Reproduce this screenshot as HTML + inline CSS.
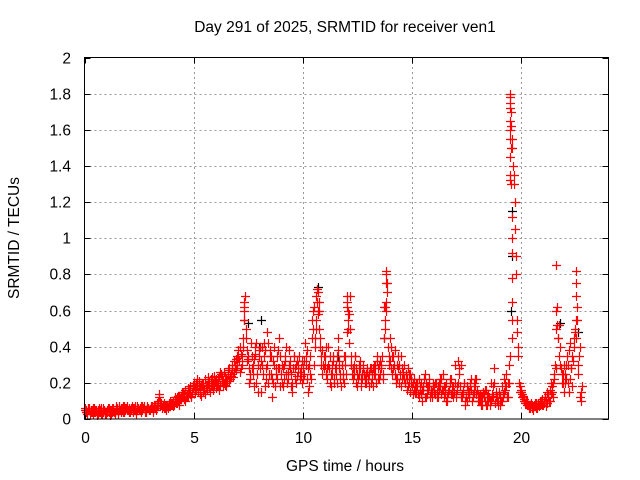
<!DOCTYPE html>
<html><head><meta charset="utf-8"><style>
body{margin:0;background:#fff;}
svg{display:block;font-family:"Liberation Sans",sans-serif;font-size:15.5px;}
</style></head><body>
<svg id="chart" width="640" height="480" viewBox="0 0 640 480">
<rect width="640" height="480" fill="#fff"/>
<text x="345" y="32" text-anchor="middle">Day 291 of 2025, SRMTID for receiver ven1</text>
<text x="345" y="471" text-anchor="middle">GPS time / hours</text>
<text x="19" y="238" text-anchor="middle" transform="rotate(-90 19 238)">SRMTID / TECUs</text>
<g id="grid"></g>
<g id="ticks"></g>
<g id="marks"></g>
<rect x="84.5" y="57.5" width="524" height="361.5" fill="none" stroke="#000" stroke-width="1"/>
</svg>
<script>
const xTicks=[0,5,10,15,20];
const yTicks=[0,0.2,0.4,0.6,0.8,1,1.2,1.4,1.6,1.8,2];
const yTickLabels=["0","0.2","0.4","0.6","0.8","1","1.2","1.4","1.6","1.8","2"];
const seriesA=[.05,.04,.06,.05,.03,.04,.05,.04,.03,.05,
.03,.04,.05,.06,.04,.05,.07,.05,.04,.06,
.05,.04,.06,.05,.07,.05,.04,.06,.05,.06,
.05,.07,.06,.09,.12,.08,.07,.06,.08,.07,
.09,.08,.11,.10,.13,.12,.10,.14,.16,.12,
.18,.20,.15,.17,.19,.14,.16,.21,.18,.20,
.17,.22,.19,.24,.20,.18,.21,.25,.23,.28,
.30,.26,.35,.62,.45,.33,.22,.30,.40,.25,
.35,.15,.42,.28,.20,.38,.12,.30,.22,.45,
.25,.18,.32,.22,.28,.15,.35,.20,.30,.24,
.28,.42,.22,.18,.55,.30,.68,.58,.40,.25,
.35,.22,.28,.18,.32,.25,.38,.22,.30,.20,
.65,.42,.30,.22,.35,.18,.28,.22,.25,.20,
.22,.28,.18,.25,.35,.22,.30,.62,.82,.40,
.32,.25,.38,.22,.30,.18,.26,.20,.28,.15,
.18,.22,.15,.12,.20,.16,.25,.14,.18,.12,
.15,.20,.12,.18,.25,.14,.10,.16,.22,.12,
.14,.32,.18,.12,.20,.10,.15,.22,.12,.18,
.10,.14,.08,.12,.16,.10,.20,.13,.09,.12,
.15,.10,.22,.18,.12,1.78,1.50,1.20,.55,.20,
.15,.12,.10,.08,.07,.06,.08,.09,.07,.10,
.08,.12,.15,.10,.18,.22,.85,.45,.30,.25,
.20,.35,.15,.28,.40,.82,.25,.12];
const seriesB=[.04,.06,.03,.05,.04,.02,.06,.03,.04,.03,
.05,.02,.06,.04,.05,.03,.06,.04,.05,.07,
.04,.06,.05,.03,.06,.05,.07,.04,.06,.05,
.06,.04,.08,.10,.07,.06,.09,.05,.07,.09,
.07,.10,.12,.08,.15,.11,.13,.17,.14,.19,
.15,.22,.18,.13,.20,.17,.23,.15,.19,.24,
.20,.16,.25,.21,.19,.27,.22,.30,.26,.33,
.38,.28,.45,.68,.32,.20,.35,.18,.42,.15,
.40,.30,.18,.48,.25,.35,.20,.28,.38,.18,
.20,.30,.25,.38,.18,.28,.22,.32,.26,.20,
.32,.35,.15,.25,.60,.45,.72,.50,.30,.35,
.25,.40,.20,.30,.22,.35,.28,.18,.25,.30,
.55,.68,.25,.30,.20,.25,.18,.30,.22,.26,
.18,.25,.30,.20,.28,.32,.25,.55,.75,.30,
.40,.28,.20,.35,.25,.22,.30,.16,.20,.22,
.14,.18,.20,.16,.10,.22,.12,.18,.15,.20,
.20,.12,.16,.22,.18,.10,.15,.20,.14,.30,
.18,.25,.12,.16,.08,.14,.20,.10,.15,.22,
.12,.08,.15,.10,.12,.08,.14,.28,.12,.10,
.08,.14,.20,.12,.30,1.62,1.35,.90,.40,.15,
.12,.10,.08,.07,.09,.05,.07,.08,.10,.08,
.10,.07,.12,.20,.12,.30,.62,.52,.20,.15,
.30,.20,.42,.18,.50,.55,.35,.10];
const seriesC=[.06,.03,.05,.04,.06,.05,.03,.05,.06,.04,
.04,.06,.03,.05,.07,.04,.05,.06,.07,.05,
.06,.05,.04,.07,.05,.06,.05,.07,.04,.06,
.07,.05,.06,.08,.14,.09,.06,.08,.06,.10,
.08,.12,.09,.13,.11,.15,.16,.12,.18,.15,
.20,.16,.21,.18,.15,.22,.19,.17,.23,.18,
.22,.19,.26,.18,.24,.21,.28,.24,.32,.27,
.34,.40,.30,.55,.38,.28,.42,.25,.36,.30,
.28,.40,.35,.22,.42,.25,.32,.18,.35,.28,
.30,.22,.40,.26,.32,.20,.28,.24,.35,.28,
.22,.30,.28,.35,.45,.62,.50,.65,.35,.30,
.30,.28,.35,.25,.20,.30,.45,.25,.22,.35,
.48,.58,.35,.25,.28,.22,.32,.25,.20,.28,
.25,.20,.28,.30,.22,.25,.35,.45,.65,.35,
.28,.35,.25,.30,.20,.28,.22,.25,.18,.25,
.20,.15,.18,.22,.14,.18,.20,.16,.12,.15,
.18,.15,.20,.14,.16,.18,.12,.22,.18,.15,
.12,.20,.30,.15,.10,.18,.12,.16,.20,.14,
.14,.10,.12,.16,.08,.12,.10,.18,.15,.08,
.12,.18,.15,.25,.20,1.70,1.40,1.05,.48,.18,
.14,.11,.09,.08,.06,.07,.09,.06,.08,.09,
.09,.10,.14,.16,.15,.25,.52,.35,.28,.20,
.25,.30,.22,.35,.45,.68,.30,.15];
const seriesD=[.05,.05,.04,.06,.05,.03,.04,.06,.05,.04,
.06,.05,.04,.03,.06,.05,.04,.07,.06,.05,
.05,.07,.06,.04,.05,.07,.06,.05,.07,.05,
.06,.08,.05,.07,.10,.07,.08,.07,.09,.08,
.10,.09,.13,.11,.12,.14,.13,.15,.13,.17,
.17,.19,.14,.20,.16,.18,.20,.22,.16,.21,
.19,.23,.21,.26,.22,.25,.24,.27,.30,.35,
.32,.36,.40,.50,.35,.25,.28,.33,.20,.38,
.32,.25,.38,.30,.35,.22,.40,.25,.28,.35,
.28,.35,.20,.30,.25,.35,.30,.26,.22,.32,
.25,.38,.30,.22,.50,.40,.60,.45,.38,.28,
.40,.30,.25,.35,.28,.20,.32,.30,.35,.25,
.60,.50,.28,.35,.25,.30,.22,.28,.25,.22,
.28,.22,.25,.32,.30,.28,.22,.50,.70,.45,
.35,.30,.22,.28,.35,.25,.20,.22,.25,.20,
.16,.20,.14,.18,.16,.12,.18,.22,.16,.18,
.14,.18,.22,.16,.12,.20,.16,.14,.18,.20,
.16,.28,.14,.20,.12,.16,.18,.14,.22,.16,
.10,.12,.14,.08,.14,.10,.12,.20,.10,.14,
.10,.12,.16,.20,.35,1.55,1.30,.80,.35,.16,
.13,.09,.10,.06,.08,.07,.06,.09,.08,.11,
.12,.09,.10,.14,.20,.28,.45,.40,.25,.30,
.22,.38,.28,.32,.48,.62,.40,.18];
const peakTimes=[19.5,19.5,19.5,19.5,19.5,19.5,19.5,19.5,19.5,19.55,19.55,19.6,19.6,19.6,19.6,19.6,19.6,19.6,21.6,21.6,22.5,22.5,22.5,13.8,13.8,13.75,13.8,7.3,7.3,7.3,10.7,10.65,10.75,10.6,12.0,12.0,12.05];
const peakValues=[1.8,1.75,1.72,1.65,1.6,1.55,1.45,1.35,1.32,1.3,1.5,1.12,1.0,.92,.78,.65,.55,.45,.6,.5,.75,.55,.45,.8,.75,.62,.6,.65,.6,.55,.7,.65,.6,.55,.68,.62,.5];
const blackTimes=[7.5,8.1,10.7,11.6,13.7,19.6,19.6,21.8,22.6,8.0,12.2,19.55];
const blackValues=[.53,.55,.73,.35,.45,1.15,.9,.53,.48,.4,.3,.6];

const X0=84.5,X1=608.5,Y0=419,Y1=57.5,XMAX=24,YMAX=2;
const sx=t=>X0+(X1-X0)*t/XMAX;
const sy=v=>Y0-(Y0-Y1)*v/YMAX;
const NS="http://www.w3.org/2000/svg";
function mk(tag,attrs,parent){const e=document.createElementNS(NS,tag);for(const k in attrs)e.setAttribute(k,attrs[k]);parent.appendChild(e);return e;}
const grid=document.getElementById('grid'),ticks=document.getElementById('ticks'),marks=document.getElementById('marks');
yTicks.forEach((v,i)=>{
  const y=Math.round(sy(v))+0.5;
  if(i>0&&i<yTicks.length-1){
    const g=mk('line',{x1:X0,x2:X1,y1:y,y2:y,stroke:'#999','stroke-dasharray':'2,3'},grid);
    
    
  }
  mk('line',{x1:X0,x2:X0+6,y1:y,y2:y,stroke:'#000'},ticks);
  mk('line',{x1:X1-6,x2:X1,y1:y,y2:y,stroke:'#000'},ticks);
  const t=mk('text',{x:71,y:y+5,'text-anchor':'end'},ticks);
  t.textContent=yTickLabels[i];
  
  
});
xTicks.forEach(v=>{
  const x=Math.round(sx(v))+0.5;
  if(v>0){
    const g=mk('line',{x1:x,x2:x,y1:Y0,y2:Y1,stroke:'#999','stroke-dasharray':'2,3'},grid);
    
    
  }
  mk('line',{x1:x,x2:x,y1:Y0,y2:Y0-6,stroke:'#000'},ticks);
  mk('line',{x1:x,x2:x,y1:Y1,y2:Y1+6,stroke:'#000'},ticks);
  const t=mk('text',{x:x,y:443,'text-anchor':'middle'},ticks);
  t.textContent=String(v);
  
  
});
function plus(t,v,color,name){
  const x=Math.round(sx(t))+0.5,y=Math.round(sy(v))+0.5;
  const p=mk('path',{d:`M${x-4.5} ${y}H${x+4.5}M${x} ${y-4.5}V${y+4.5}`,stroke:color,'stroke-width':1.2,fill:'none'},marks);
  
  
}
blackTimes.forEach((t,i)=>plus(t,blackValues[i],'#000','black-point'));
seriesA.forEach((v,i)=>plus(i*0.1,v,'#f00','red-point'));
seriesB.forEach((v,i)=>plus(i*0.1+0.05,v,'#f00','red-point'));
seriesC.forEach((v,i)=>plus(i*0.1+0.025,v,'#f00','red-point'));
seriesD.forEach((v,i)=>plus(i*0.1+0.075,v,'#f00','red-point'));
peakTimes.forEach((t,i)=>plus(t,peakValues[i],'#f00','red-point'));
</script>
</body></html>
